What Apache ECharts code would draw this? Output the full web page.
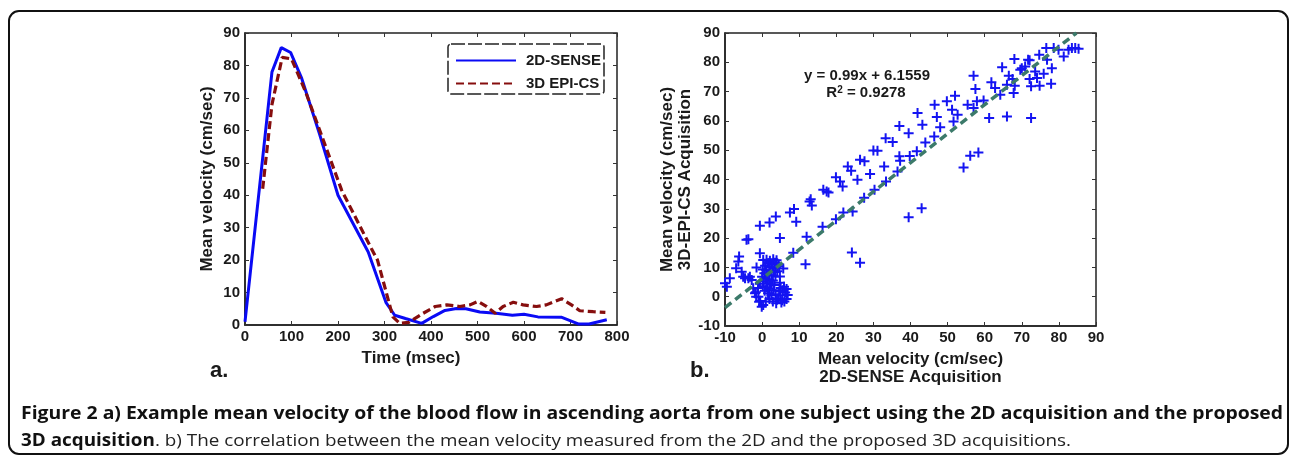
<!DOCTYPE html>
<html><head><meta charset="utf-8">
<script src="https://cdn.jsdelivr.net/npm/echarts/dist/echarts.min.js"></script>
<style>html,body{margin:0;padding:0;background:#fff;}#chart{width:1293px;height:459px;}</style>
</head><body><div id="chart"></div>
<script>
// ---- Panel a: time courses ----
const senseTime = [0, 58, 78, 98, 122, 160, 200, 265, 303, 322, 345, 380, 405, 430, 455, 475, 505, 540, 575, 600, 630, 680, 718, 740, 778];
const senseVel  = [1, 78, 85.5, 84, 76, 59, 40, 22.5, 7, 3, 2, 0.5, 2.6, 4.5, 5.1, 5, 4, 3.6, 3, 3.3, 2.5, 2.4, 0.3, 0.3, 1.6];
const epiTime = [38, 58, 80, 100, 130, 208, 272, 285, 318, 333, 352, 383, 409, 434, 462, 484, 501, 520, 538, 555, 577, 598, 627, 648, 681, 702, 720, 749, 775];
const epiVel  = [42, 68, 82.5, 82, 72, 41.5, 23.5, 20, 2.5, 0.5, 0.8, 3.6, 5.7, 6.2, 5.7, 6.2, 7.3, 5.7, 3.6, 5.7, 7, 6.2, 5.7, 6.2, 8.1, 6.2, 4.4, 4.1, 3.9];
const seriesNames = ['2D-SENSE', '3D EPI-CS'];

// ---- Panel b: correlation ----
const scatterPts = [
 [-10,4.6],[-9.5,3.4],[-8.7,6.3],[-7,9.7],[-6.4,12],[-6.2,13.7],[-5.5,8.5],[-5.1,6.8],[-4.6,6.3],[-4.2,19.4],[-3.7,19.6],
 [-3.7,6.3],[-3.3,6.8],[-2.8,5.7],[-2.4,2.9],[-1.9,1.2],[-1.6,0],[-0.8,-1.7],[-0.1,-3.4],[0.3,-2.8],[-1.5,10],[-0.6,24.2],[-0.6,14.8],
 [0.3,12.5],[1.2,12.6],[2.1,12.3],[3.0,12.8],[3.9,12.4],[1.6,11.4],[2.6,11.2],[3.5,11.6],[4.4,11.0],[0.8,10.6],[1.9,10.2],[2.8,10.4],
 [3.7,9.8],[4.6,10.3],[0.2,9.3],[1.1,9.0],[2.3,8.8],[3.2,8.4],[4.1,8.7],[0.6,8.0],[1.5,7.6],[2.6,7.2],[3.6,6.9],[0.0,6.8],[1.0,6.2],
 [1.9,5.8],[2.9,5.5],[0.4,5.3],[1.4,4.6],[2.4,4.2],[3.3,4.0],[0.2,3.6],[1.1,3.2],[2.0,2.7],[3.0,2.2],[0.7,2.0],[1.6,1.2],[2.5,0.6],
 [3.6,0.8],[-0.6,4.4],[-1.1,3.0],[-1.7,1.5],[-1.0,0.0],[-0.5,-1.5],[1.0,-1.6],[2.0,-0.8],[2.9,-1.6],[3.8,-2.2],[4.4,-0.6],[4.9,0.5],
 [5.4,-1.2],[6.0,-1.6],[6.6,-0.8],[6.9,0.6],[6.2,1.4],[5.6,2.2],[6.6,2.6],[5.0,3.0],[5.9,3.4],[4.6,1.8],[4.0,-1.0],[5.2,-2.0],[4.8,4.8],
 [5.7,9.6],[4.8,6.9],[4.8,20],[2,25.3],[3.7,27.4],[7.5,28.7],[8.6,29.9],[9.2,25.6],[8.4,15],[11.7,11.1],[12,20.5],[12.8,32.5],[13.1,33.3],
 [13.4,31.1],[16.3,23.9],[16.5,36.5],[17.4,35.9],[17.9,35.6],[19.9,40.8],[21,39.3],[21.7,37.6],[19.9,26.4],[21.9,28.7],[23.1,44.4],[24,43],
 [24.4,29.1],[24.2,15.1],[25.7,39.9],[26.4,46.7],[27.6,46.2],[26.4,11.6],[27.5,33.8],[29.1,41.9],[30,49.9],[31.1,49.8],[30.3,36.5],
 [32.9,44.4],[33.3,54.1],[35.2,52.8],[33.4,39.3],[37,47.9],[37.2,46.4],[37,58.3],[36.5,42.7],[39.5,55.8],[39.5,27.1],[39.8,48],[41.7,49.6],
 [41.9,62.7],[43,30.2],[43.2,58.7],[44,52.6],[46.4,54.7],[46.5,65.5],[47.1,61.3],[48,57.8],[49.8,66.7],[51.2,63.8],[51.6,59.8],[52,68.6],
 [52.7,62.1],[54.3,44.1],[55.4,65.5],[56.1,48.1],[57,75.4],[57.5,70.9],[57,64.4],[57.9,66.7],[58.3,49.2],[59.7,67],[61.2,61],[61.8,73.2],
 [62.8,71.2],[64.2,68.9],[64.7,78.3],[66,61.5],[66,72.3],[66.5,75.4],[67.5,74.3],[67.8,69.5],[68.1,72],[68,81.1],[69.6,77.5],[70,78],
 [70.9,78.6],[71.7,80.9],[72.1,80.7],[72.1,74.3],[72.5,71.8],[72.5,61],[73.6,76.9],[74.1,74.6],[74.8,72],[74.7,82.6],[75.9,76.1],
 [76.6,84.9],[76.8,80.9],[77.9,72.7],[78.1,78],[78.6,84.9],[79.9,84.3],[81.3,82],[82.6,84.3],[83.5,84.9],[84.4,84.9],[85.3,84.6]
];
const trendX = [-10, 84.7];
const trendY = [-3.74, 90];
const equationText = 'y = 0.99x + 6.1559';
const r2Value = '0.9278';

const captionLine1 = 'Figure 2 a) Example mean velocity of the blood flow in ascending aorta from one subject using the 2D acquisition and the proposed';
const captionLine2Bold = '3D acquisition';
const captionLine2Rest = '. b) The correlation between the mean velocity measured from the 2D and the proposed 3D acquisitions.';

const TXT = '#1a1a1a';
const FF = '"Liberation Sans", Arial, sans-serif';
const lbl = {fontFamily: FF, fontWeight: 'bold', fontSize: 15, color: TXT};
const tick = {show: true, inside: true, length: 4, lineStyle: {color: '#333', width: 1}};

function mainAxis(gi, pos, min, max, itv, name, nameGap, namePad) {
  return {type: 'value', gridIndex: gi, position: pos, min, max, interval: itv,
    axisLine: {show: true, onZero: false, lineStyle: {color: '#222', width: 1.5}},
    axisTick: tick, splitLine: {show: false},
    axisLabel: Object.assign({margin: (pos === 'bottom') ? 4 : 5}, lbl),
    name, nameLocation: 'middle', nameGap,
    nameTextStyle: {fontFamily: FF, fontWeight: 'bold', fontSize: 17, color: TXT, lineHeight: 18, padding: namePad || 0}};
}
function tickAxis(gi, pos, min, max, itv) {
  return {type: 'value', gridIndex: gi, position: pos, min, max, interval: itv,
    axisLine: {show: false, onZero: false}, axisTick: tick, axisLabel: {show: false}, splitLine: {show: false}};
}

const plusPath = 'path://M-1,-5H1V-1H5V1H1V5H-1V1H-5V-1H-1Z';

function measure(txt, font) {
  const c = document.createElement('canvas').getContext('2d');
  c.font = font; return c.measureText(txt).width;
}
const capFamily = '"Open Sans"';
const capSize = 17;
const capX = 21;
const w1 = measure(captionLine1, 'bold ' + capSize + 'px ' + capFamily);
const capScale = (1283 - capX) / w1;
const w2 = measure(captionLine2Bold, 'bold ' + capSize + 'px ' + capFamily) + measure(captionLine2Rest, capSize + 'px ' + capFamily);
const capScale2 = (1071 - capX) / w2;

const chart = echarts.init(document.getElementById('chart'), null, {renderer: 'canvas'});
chart.setOption({
  backgroundColor: '#fff',
  animation: false,
  grid: [
    {left: 245, top: 33, width: 372, height: 292, show: true, borderColor: '#222', borderWidth: 1.5, backgroundColor: 'transparent'},
    {left: 725, top: 33, width: 371, height: 293, show: true, borderColor: '#222', borderWidth: 1.5, backgroundColor: 'transparent'}
  ],
  xAxis: [
    mainAxis(0, 'bottom', 0, 800, 100, 'Time (msec)', 18, [0, 40, 0, 0]),
    tickAxis(0, 'top', 0, 800, 100),
    mainAxis(1, 'bottom', -10, 90, 10, 'Mean velocity (cm/sec)\n2D-SENSE Acquisition', 24),
    tickAxis(1, 'top', -10, 90, 10)
  ],
  yAxis: [
    mainAxis(0, 'left', 0, 90, 10, 'Mean velocity (cm/sec)', 29),
    tickAxis(0, 'right', 0, 90, 10),
    mainAxis(1, 'left', -10, 90, 10, 'Mean velocity (cm/sec)\n3D-EPI-CS Acquisition', 27),
    tickAxis(1, 'right', -10, 90, 10)
  ],
  legend: {
    data: seriesNames, orient: 'vertical', left: 450, top: 48, padding: 5,
    itemWidth: 60, itemHeight: 14, itemGap: 8,
    itemStyle: {color: 'rgba(0,0,0,0)', borderWidth: 0, opacity: 0},
    textStyle: {fontFamily: FF, fontWeight: 'bold', fontSize: 15, color: TXT, padding: [0, 0, 0, 5]}
  },
  series: [
    {name: seriesNames[0], type: 'line', xAxisIndex: 0, yAxisIndex: 0, symbol: 'none',
      data: senseTime.map((t, i) => [t, senseVel[i]]),
      lineStyle: {color: '#0a0af5', width: 3}, itemStyle: {color: '#0a0af5'}},
    {name: seriesNames[1], type: 'line', xAxisIndex: 0, yAxisIndex: 0, symbol: 'none',
      data: epiTime.map((t, i) => [t, epiVel[i]]),
      lineStyle: {color: '#860e0e', width: 3.2, type: [8, 4]}, itemStyle: {color: '#860e0e'}},
    {type: 'scatter', xAxisIndex: 2, yAxisIndex: 2, symbol: plusPath, symbolSize: 10,
      data: scatterPts, itemStyle: {color: '#1414f2', opacity: 1}},
    {type: 'line', xAxisIndex: 2, yAxisIndex: 2, symbol: 'none',
      data: trendX.map((x, i) => [x, trendY[i]]),
      lineStyle: {color: '#3c7a6a', width: 3.5, type: [8, 5]}}
  ],
  graphic: [
    {type: 'rect', shape: {x: 9, y: 11, width: 1279, height: 443, r: 10}, style: {fill: 'none', stroke: '#111', lineWidth: 2}, z: 0},
    {type: 'rect', shape: {x: 448, y: 44, width: 156, height: 50, r: 3}, style: {fill: 'none', stroke: '#222', lineWidth: 1.5, lineDash: [14, 3]}, z: 10},
    {type: 'text', x: 867, y: 76, z: 10, style: {text: equationText, fontFamily: FF, fontWeight: 'bold', fontSize: 15, fill: TXT, align: 'center', verticalAlign: 'middle'}},
    {type: 'text', x: 866, y: 93, z: 10, style: {text: '{a|R}{s|2}{a| = ' + r2Value + '}', fontFamily: FF, fontWeight: 'bold', fontSize: 15, fill: TXT, align: 'center', verticalAlign: 'middle',
      rich: {a: {fontFamily: FF, fontWeight: 'bold', fontSize: 15, fill: TXT, verticalAlign: 'bottom'}, s: {fontFamily: FF, fontWeight: 'bold', fontSize: 10, fill: TXT, verticalAlign: 'top'}}}},
    {type: 'text', x: 210, y: 371, z: 10, style: {text: 'a.', fontFamily: FF, fontWeight: 'bold', fontSize: 22, fill: TXT, align: 'left', verticalAlign: 'middle'}},
    {type: 'text', x: 690, y: 371, z: 10, style: {text: 'b.', fontFamily: FF, fontWeight: 'bold', fontSize: 22, fill: TXT, align: 'left', verticalAlign: 'middle'}},
    {type: 'text', x: capX, y: 414, scaleX: capScale, z: 10, style: {text: captionLine1, fontFamily: capFamily, fontWeight: 'bold', fontSize: capSize, fill: '#111', align: 'left', verticalAlign: 'middle'}},
    {type: 'text', x: capX, y: 441, scaleX: capScale2, z: 10, style: {text: '{b|' + captionLine2Bold + '}{n|' + captionLine2Rest + '}', fontFamily: capFamily, fontSize: capSize, fill: '#111', align: 'left', verticalAlign: 'middle',
      rich: {b: {fontFamily: capFamily, fontWeight: 'bold', fontSize: capSize, fill: '#111'}, n: {fontFamily: capFamily, fontWeight: 'normal', fontSize: capSize, fill: '#222'}}}}
  ]
});
</script>
</body></html>
